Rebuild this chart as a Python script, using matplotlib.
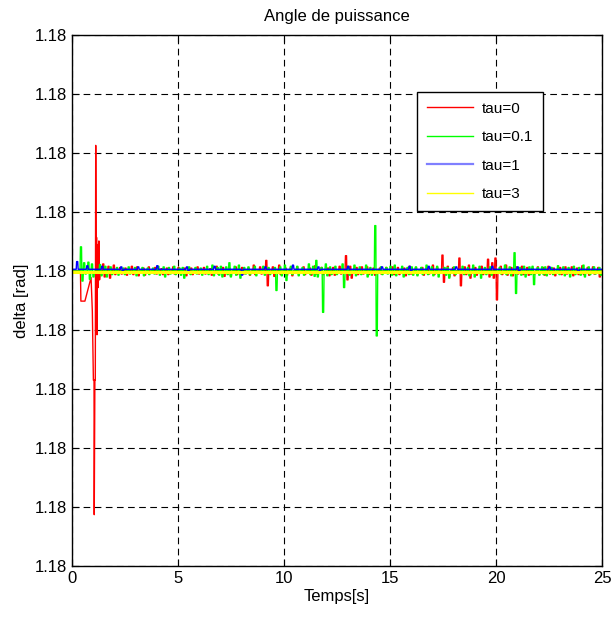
import numpy as np
import matplotlib
matplotlib.use('Agg')
import matplotlib.pyplot as plt
from matplotlib.ticker import FormatStrFormatter

plt.rcParams['font.family'] = ['Liberation Sans', 'DejaVu Sans']

# y axis: base value and tick step (all ticks print as 1.18)
base = 1.18
step = 0.0004

# tau=0 start-up transient (time [s], deviation in tick steps)
red_trans_t = [0.0, 0.40, 0.42, 0.61, 0.90, 0.96, 1.01, 1.04, 1.05, 1.08, 1.10,
               1.12, 1.14, 1.16, 1.18, 1.21, 1.24, 1.27, 1.30, 1.34]
red_trans_d = [0.0, 0.0, -0.51, -0.51, -0.11, -0.68, -1.85, -1.85, -4.13, -1.85, -1.85,
               2.13, 0.10, 0.57, -1.08, 0.45, -0.28, 0.51, -0.15, 0.0]

# ripple / spike events: time, peak up, peak down (tick steps)
red_t = [1.45, 1.70, 1.95, 2.25, 2.50, 2.80, 3.05, 3.35, 3.60, 3.90, 4.20, 4.45, 4.75,
         5.00, 5.30, 5.60, 5.90, 6.20, 6.50, 6.80, 7.10, 7.40, 7.70, 8.00, 8.30, 8.55,
         8.85, 9.14, 9.45, 9.75, 10.05, 10.30, 10.60, 10.90, 11.20, 11.45, 11.75, 12.05,
         12.30, 12.60, 12.90, 13.10, 13.40, 13.65, 13.90, 14.20, 14.50, 14.80, 15.10,
         15.35, 15.65, 15.90, 16.20, 16.50, 16.75, 17.00, 17.20, 17.45, 17.70, 17.95,
         18.25, 18.50, 18.70, 19.00, 19.30, 19.60, 19.80, 19.95, 20.20, 20.45, 20.70,
         20.95, 21.20, 21.45, 21.70, 21.95, 22.20, 22.45, 22.70, 23.00, 23.25, 23.55,
         23.80, 24.05, 24.30, 24.55, 24.80]
red_up = [.12, .08, .10, .06, .05, .08, .07, .05, .07, .06, .04, .05, .07,
          .06, .05, .05, .07, .06, .04, .08, .06, .05, .07, .06, .05, .10,
          .07, .18, .07, .10, .05, .06, .07, .07, .05, .09, .06, .05,
          .06, .08, .26, .08, .06, .07, .07, .05, .05, .06, .07,
          .06, .05, .08, .06, .06, .05, .10, .06, .27, .08, .06,
          .22, .07, .10, .06, .08, .20, .14, .22, .08, .10, .06,
          .07, .08, .06, .05, .07, .06, .08, .05, .06, .07, .07,
          .05, .09, .06, .07, .06]
red_dn = [-.10, -.12, -.06, -.05, -.07, -.06, -.08, -.07, -.04, -.05, -.06, -.06, -.05,
          -.04, -.08, -.06, -.05, -.05, -.07, -.05, -.09, -.08, -.06, -.05, -.07, -.06,
          -.05, -.25, -.09, -.06, -.07, -.08, -.05, -.06, -.07, -.05, -.06, -.08,
          -.07, -.05, -.15, -.12, -.06, -.05, -.06, -.07, -.05, -.04, -.06,
          -.06, -.08, -.05, -.06, -.07, -.05, -.06, -.05, -.19, -.10, -.08,
          -.25, -.06, -.12, -.07, -.06, -.10, -.12, -.49, -.06, -.07, -.08,
          -.05, -.06, -.07, -.06, -.05, -.07, -.05, -.08, -.06, -.05, -.08,
          -.06, -.06, -.07, -.05, -.10]

green_t = [0.40, 0.55, 0.75, 0.92, 1.30, 1.55, 1.80, 2.10, 2.40, 2.65, 2.95, 3.30, 3.55,
           3.80, 4.05, 4.30, 4.55, 4.80, 5.05, 5.20, 5.50, 5.80, 6.05, 6.35, 6.60, 6.85,
           7.00, 7.25, 7.40, 7.65, 7.85, 8.10, 8.30, 8.60, 9.00, 9.25, 9.55, 9.80, 10.02,
           10.30, 10.60, 10.85, 11.15, 11.35, 11.50, 11.75, 11.95, 12.15, 12.40, 12.74,
           13.00, 13.30, 13.55, 13.85, 14.05, 14.28, 14.55, 14.80, 15.00, 15.20, 15.55,
           15.80, 16.00, 16.20, 16.45, 16.70, 16.95, 17.20, 17.55, 17.70, 18.00, 18.40,
           18.65, 18.90, 19.20, 19.45, 19.70, 20.15, 20.40, 20.62, 20.85, 21.10, 21.30,
           21.55, 21.70, 21.95, 22.15, 22.30, 22.60, 22.90, 23.15, 23.40, 23.65, 23.90,
           24.10, 24.35, 24.60, 24.85]
green_up = [.41, .14, .15, .12, .11, .08, .07, .06, .05, .07, .06, .06, .05,
            .05, .08, .07, .06, .08, .05, .06, .07, .06, .05, .08, .10, .06,
            .08, .07, .14, .08, .10, .06, .07, .08, .08, .06, .06, .07, .10,
            .08, .08, .06, .12, .08, .18, .06, .12, .07, .08, .12,
            .08, .10, .07, .10, .06, .77, .07, .06, .08, .10, .08,
            .06, .07, .07, .06, .10, .07, .08, .06, .06, .07, .08,
            .06, .10, .08, .06, .07, .06, .10, .07, .31, .06, .08,
            .07, .08, .06, .07, .07, .06, .09, .07, .06, .08, .06,
            .10, .07, .07, .06]
green_dn = [-.17, -.05, -.14, -.10, -.08, -.10, -.06, -.07, -.06, -.05, -.08, -.08, -.06,
            -.05, -.07, -.10, -.05, -.06, -.07, -.12, -.06, -.05, -.07, -.06, -.08, -.07,
            -.10, -.06, -.10, -.07, -.12, -.05, -.06, -.08, -.07, -.06, -.33, -.08, -.16,
            -.06, -.08, -.07, -.06, -.09, -.10, -.70, -.08, -.06, -.06, -.28,
            -.07, -.08, -.06, -.10, -.07, -1.10, -.06, -.05, -.07, -.08, -.10,
            -.06, -.07, -.08, -.06, -.06, -.08, -.10, -.07, -.12, -.06, -.06,
            -.08, -.10, -.12, -.06, -.07, -.05, -.06, -.08, -.38, -.07, -.10,
            -.06, -.23, -.07, -.06, -.08, -.06, -.06, -.08, -.10, -.06, -.07,
            -.10, -.06, -.05, -.07]

blue_level = 0.03
blue_t = [0.22, 0.70, 1.40, 2.30, 3.10, 4.00, 5.40, 6.70, 7.93, 9.10, 10.40, 11.60,
          13.00, 14.60, 15.90, 16.80, 18.10, 19.80, 21.00, 22.50, 23.80]
blue_up = [.13, .06, .05, .04, .04, .06, .04, .05, .00, .04, .07, .04,
           .05, .04, .05, .05, .04, .05, .04, .04, .00]
blue_dn = [.00, .00, .00, -.03, .00, .00, -.03, .00, -.10, .00, .00, -.03,
           .00, .00, -.03, .00, .00, .00, -.03, .00, -.06]

yellow_level = -0.02
t_end = 25


def spike_line(times, ups, downs, level=0.0, start=None):
    xs, ys = ([0.0], [level]) if start is None else (list(start[0]), list(start[1]))
    for t, u, d in zip(times, ups, downs):
        xs += [t - 0.02, t, t + 0.05, t + 0.07, t + 0.12, t + 0.14]
        ys += [level, level + u, level + u, level + d, level + d, level]
    xs.append(t_end)
    ys.append(level)
    return np.array(xs), base + np.array(ys) * step


fig = plt.figure(figsize=(6.11, 6.18), dpi=100)
ax = fig.add_axes([0.1178, 0.0841, 0.8675, 0.8592])

x, y = spike_line(red_t, red_up, red_dn, start=(red_trans_t, red_trans_d))
ax.plot(x, y, color='red', lw=1, label='tau=0')
x, y = spike_line(green_t, green_up, green_dn)
ax.plot(x, y, color='#00ff00', lw=1, label='tau=0.1')
x, y = spike_line(blue_t, blue_up, blue_dn, level=blue_level)
ax.plot(x, y, color='blue', lw=1, label='tau=1')
ax.plot([0, t_end], base + np.array([yellow_level, yellow_level]) * step,
        color='yellow', lw=2.2, label='tau=3')

ax.set_xlim(0, 25)
ax.set_ylim(base - 5 * step, base + 4 * step)
ax.set_xticks([0, 5, 10, 15, 20, 25])
ax.set_yticks(base + np.arange(-5, 5) * step)
ax.yaxis.set_major_formatter(FormatStrFormatter('%.2f'))
ax.tick_params(direction='in', top=True, right=True, length=5, labelsize=12, colors='black')
ax.grid(True, color='black', linestyle=(0, (6, 4)), lw=0.8)
for s in ax.spines.values():
    s.set_linewidth(1)

ax.set_title('Angle de puissance', fontsize=12, pad=10)
ax.set_xlabel('Temps[s]', fontsize=12, labelpad=2)
ax.set_ylabel('delta [rad]', fontsize=12, labelpad=4)

leg = ax.legend(loc='upper right', bbox_to_anchor=(0.889, 0.893), borderaxespad=0,
                fancybox=False, edgecolor='black', framealpha=1, fontsize=11,
                handlelength=3.0, handletextpad=0.6, labelspacing=0.95, borderpad=0.65)
leg.get_frame().set_linewidth(1)
leg.get_lines()[2].set_color('#7f7fff')
leg.get_lines()[2].set_linewidth(1.6)
leg.get_lines()[3].set_linewidth(1)

fig.savefig('out.png', dpi=100)
